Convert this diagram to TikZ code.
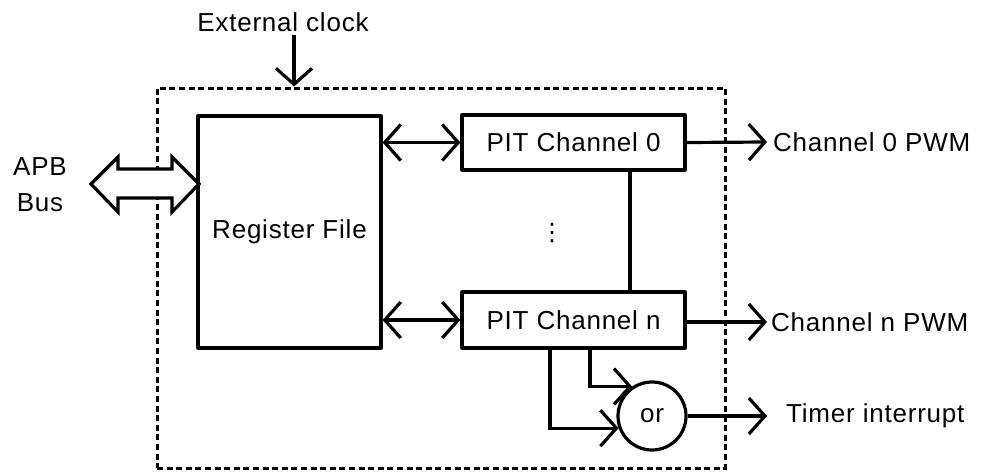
\documentclass[tikz,border=0pt]{standalone}
\usepackage{fontspec}
\setmainfont{Liberation Sans}[LetterSpace=3]
\newfontfamily\dejavu{DejaVu Sans}
\usetikzlibrary{arrows.meta}
\tikzset{
  lw/.style={line width=3.2pt},
  box/.style={draw, lw, rectangle, inner sep=0pt, line join=round},
  txt/.style={font=\fontsize{26}{36}\selectfont, inner sep=0pt},
  barb/.tip={Straight Barb[length=16pt, width=36pt, line width=3.2pt]},
  arr/.style={lw, -barb},
  darr/.style={lw, barb-barb},
  chipbox/.style={draw, line width=3pt, dash pattern=on 6pt off 3.6pt, rectangle, inner sep=0pt},
}
\begin{document}
\begin{tikzpicture}[x=1pt, y=-1pt]
\useasboundingbox (0,0) rectangle (992,474);
% outer dashed box
\node[chipbox, minimum width=568pt, minimum height=380pt] (chip) at (441,278) {};
% blocks
\node[box, txt, minimum width=183pt, minimum height=232pt] (reg) at (289.5,232) {Register File};
\node[box, txt, minimum width=223pt, minimum height=55pt] (pit0) at (573.5,142.5) {PIT Channel 0};
\node[box, txt, minimum width=223pt, minimum height=56pt] (pitn) at (573.5,320) {PIT Channel n};
\node[draw, lw, circle, minimum size=68pt, inner sep=0pt, txt] (orgate) at (652,416) {or};
\node[inner sep=0pt, font=\dejavu\fontsize{24}{24}\selectfont] (dots) at (552,233) {⋮};
% labels
\node[txt] (clk) at (283,22) {External clock};
\node[txt, align=center] (apb) at (40,185) {APB\\Bus};
\node[txt, anchor=west] (ch0) at (773,142) {Channel 0 PWM};
\node[txt, anchor=west] (chn) at (771,322) {Channel n PWM};
\node[txt, anchor=west] (timer) at (786,416) {Timer interrupt};
% helper coordinates
\coordinate (xclk) at (294,0);
\coordinate (xv) at (630,0);
\coordinate (xa) at (590,0);
\coordinate (xb) at (550,0);
% external clock
\draw[arr] (clk.south -| xclk) ++(0,3) -- (chip.north -| xclk);
% APB bus double arrow
\draw[lw, fill=white, line join=miter] (91,184) -- (118,157) -- (118,169) -- (172,169) -- (172,157) -- (199,184)
  -- (172,212) -- (172,198) -- (118,198) -- (118,212) -- cycle;
% register file <-> channels
\draw[darr] (reg.east |- pit0.west) -- (pit0.west);
\draw[darr] (reg.east |- pitn.west) -- (pitn.west);
% channel link
\draw[lw] (pit0.south -| xv) -- (pitn.north -| xv);
% outputs
\draw[arr] (pit0.east) -- ([xshift=-6pt]ch0.west);
\draw[arr] (pitn.east |- chn.west) -- ([xshift=-4pt]chn.west);
\draw[arr] (orgate.east) -- ([xshift=-19pt]timer.west);
% to or gate
\draw[arr, line join=miter] (pitn.south -| xa) |- (orgate.124.6);
\draw[arr, line join=miter] (pitn.south -| xb) |- (orgate.200.7);
\end{tikzpicture}
\end{document}
